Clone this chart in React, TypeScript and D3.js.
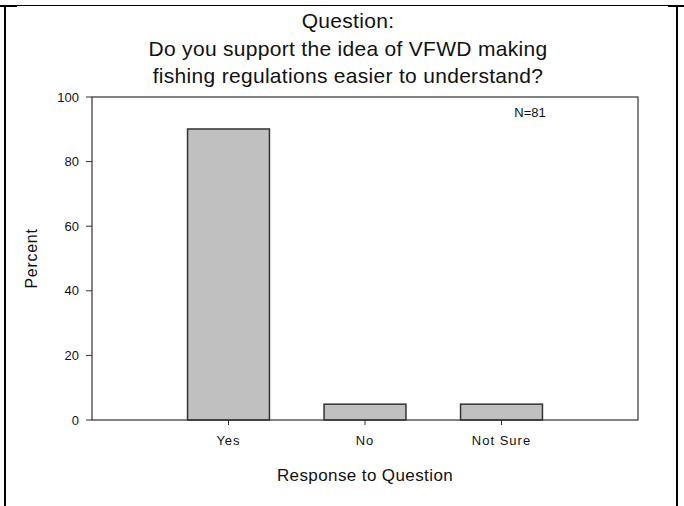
import * as d3 from 'd3';
import React from 'react';

const categories = ['Yes', 'No', 'Not Sure'];
const percents = [90.1, 4.9, 4.9];
const yTicks = [0, 20, 40, 60, 80, 100];
const titleLines = ['Question:', 'Do you support the idea of VFWD making', 'fishing regulations easier to understand?'];
const sampleNote = 'N=81';

const W = 684;
const H = 506;
const plot = { left: 92, right: 638, top: 97, bottom: 420 };
const font = 'Arial, "Liberation Sans", sans-serif';

export default function App() {
  const x = d3
    .scalePoint<string>()
    .domain(categories)
    .range([plot.left, plot.right])
    .padding(1);
  const y = d3.scaleLinear().domain([0, 100]).range([plot.bottom, plot.top]);
  const barW = x.step() * 0.6;

  return (
    <svg
      width={W}
      height={H}
      style={{ position: 'absolute', left: 0, top: 0, background: '#fff' }}
    >
      {/* table-cell frame */}
      <line x1={0} y1={5.5} x2={684} y2={5.5} stroke="#000" strokeWidth={1} />
      <line x1={0} y1={6} x2={17} y2={6} stroke="#000" strokeWidth={2} />
      <line x1={668} y1={6} x2={684} y2={6} stroke="#000" strokeWidth={2} />
      <line x1={5} y1={5} x2={5} y2={506} stroke="#000" strokeWidth={2} />
      <line x1={677} y1={6} x2={677} y2={506} stroke="#000" strokeWidth={2} />

      {/* title */}
      {titleLines.map((t, i) => (
        <text
          key={i}
          x={348}
          y={28 + i * 27.5}
          textAnchor="middle"
          fontFamily={font}
          fontSize={21}
          letterSpacing={0.3}
          fill="#111"
        >
          {t}
        </text>
      ))}

      {/* bars */}
      {categories.map((c, i) => (
        <rect
          key={c}
          x={(x(c) as number) - barW / 2}
          y={y(percents[i])}
          width={barW}
          height={plot.bottom - y(percents[i])}
          fill="#c0c0c0"
          stroke="#333"
          strokeWidth={1.5}
        />
      ))}

      {/* plot frame */}
      <rect
        x={plot.left}
        y={plot.top}
        width={plot.right - plot.left}
        height={plot.bottom - plot.top}
        fill="none"
        stroke="#333"
        strokeWidth={1.2}
      />

      {/* y axis */}
      {yTicks.map(t => (
        <g key={t}>
          <line x1={plot.left - 6} x2={plot.left} y1={y(t)} y2={y(t)} stroke="#333" strokeWidth={1} />
          <text
            x={plot.left - 13}
            y={y(t)}
            dy="0.35em"
            textAnchor="end"
            fontFamily={font}
            fontSize={13}
            fill="#111"
          >
            {t}
          </text>
        </g>
      ))}

      {/* x axis */}
      {categories.map(c => (
        <g key={c}>
          <line
            x1={x(c) as number}
            x2={x(c) as number}
            y1={plot.bottom}
            y2={plot.bottom + 5}
            stroke="#333"
            strokeWidth={1}
          />
          <text
            x={x(c) as number}
            y={plot.bottom + 25}
            textAnchor="middle"
            fontFamily={font}
            fontSize={13}
            letterSpacing={1}
            fill="#111"
          >
            {c}
          </text>
        </g>
      ))}

      <text x={530} y={117} textAnchor="middle" fontFamily={font} fontSize={13} fill="#111">
        {sampleNote}
      </text>

      <text
        x={365}
        y={481}
        textAnchor="middle"
        fontFamily={font}
        fontSize={17}
        letterSpacing={0.4}
        fill="#111"
      >
        Response to Question
      </text>
      <text
        transform={`translate(37,${(plot.top + plot.bottom) / 2}) rotate(-90)`}
        textAnchor="middle"
        fontFamily={font}
        fontSize={16}
        letterSpacing={0.7}
        fill="#111"
      >
        Percent
      </text>
    </svg>
  );
}
